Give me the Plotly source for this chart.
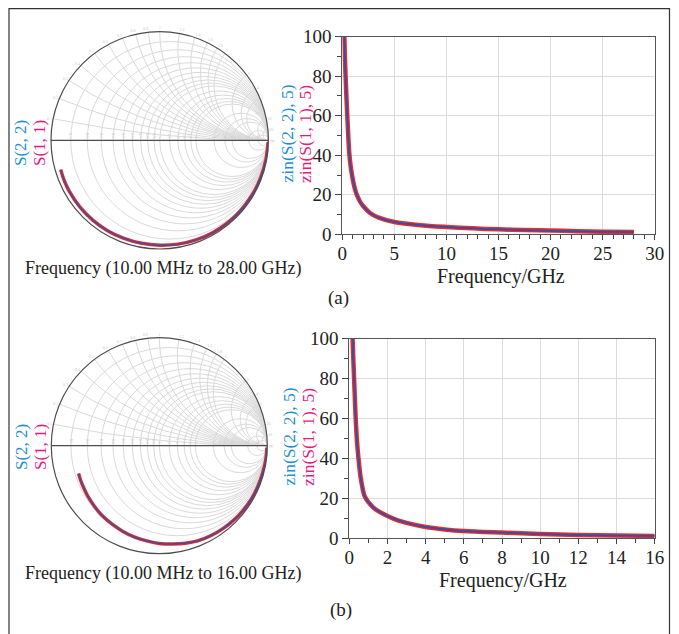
import numpy as np
import plotly.graph_objects as go

W, H = 679, 634
OFF = 8  # page body margin of the viewer, compensated in the placement helpers
FONT = "Liberation Serif"
BLUE_TXT = "#1f8fd3"
PINK_TXT = "#e8197f"
RED = "#f22a2a"
BLUE = "#3a4f9e"

# ---------------- data ----------------
# panel (a): zin vs frequency (GHz)
freq_a = [0.17, 0.2, 0.26, 0.33, 0.4, 0.48, 0.57, 0.67, 0.8, 1.0, 1.2, 1.38, 1.7,
          2.0, 2.66, 3.5, 5.0, 7.5, 10.0, 12.5, 15.0, 17.5, 20.0, 22.5, 25.0, 28.0]
zin11_a = [118, 100, 88, 78, 69, 60, 50, 41, 34.5, 28, 23.2, 20.2, 16.6,
           14.3, 10.8, 8.4, 6.2, 4.6, 3.7, 3.0, 2.5, 2.2, 1.9, 1.6, 1.35, 1.2]
zin22_a = [118, 100, 88, 78, 69, 60, 50, 41, 34.5, 28, 23.2, 20.2, 16.6,
           14.3, 10.8, 8.4, 6.2, 4.6, 3.7, 3.0, 2.5, 2.1, 1.85, 1.55, 1.3, 1.15]

# panel (b)
freq_b = [0.15, 0.175, 0.21, 0.26, 0.33, 0.4, 0.47, 0.6, 0.8, 1.0, 1.25, 1.5,
          2.0, 2.5, 3.0, 4.0, 5.0, 6.0, 8.0, 10.0, 12.0, 14.0, 16.0]
zin11_b = [118, 100, 90, 78, 61, 49, 41, 30, 21, 18, 15.4, 13.6,
           11.0, 9.0, 7.6, 5.5, 4.3, 3.5, 2.7, 2.0, 1.55, 1.25, 1.05]
zin22_b = [118, 100, 90, 78, 61, 49, 41, 30, 21, 18, 15.4, 13.6,
           11.0, 9.0, 7.6, 5.5, 4.3, 3.5, 2.7, 2.0, 1.5, 1.2, 1.0]

# Smith traces: reflection coefficient angle (deg) and magnitude
ang_a = [-1, -10, -20, -30, -45, -60, -70, -80, -90, -100, -110, -120, -130, -140, -150, -157, -163.5]
mag_a = [0.997, 0.993, 0.99, 0.988, 0.985, 0.98, 0.975, 0.97, 0.965, 0.962, 0.96, 0.96, 0.958, 0.957, 0.955, 0.953, 0.95]
ang_b = [-1, -8, -15, -22, -30, -38, -45, -52, -60, -68, -75, -82, -90, -97, -105,
         -113, -121, -130, -138, -145, -152, -157, -161]
mag_b = [0.997, 0.994, 0.99, 0.987, 0.985, 0.98, 0.975, 0.968, 0.96, 0.95, 0.935, 0.92, 0.905, 0.89,
         0.877, 0.862, 0.848, 0.835, 0.82, 0.81, 0.8, 0.795, 0.79]

real_ticks = [0.1, 0.2, 0.3, 0.4, 0.5, 0.6, 0.7, 0.8, 0.9, 1, 1.2, 1.4, 1.6, 1.8, 2, 3, 4, 5, 10, 20]
imag_ticks = [0.1, 0.2, 0.3, 0.4, 0.5, 0.6, 0.7, 0.8, 0.9, 1, 1.2, 1.4, 1.6, 1.8, 2, 3, 4, 5, 10, 20]


def to_z(ang, mag):
    g = np.array(mag) * np.exp(1j * np.deg2rad(np.array(ang)))
    z = (1 + g) / (1 - g)
    return z.real, z.imag


def px(x):
    return (x - OFF) / W


def py(y):
    return 1 - (y - OFF) / H


fig = go.Figure()

# Smith traces
for ang, mag, sub in [(ang_a, mag_a, "smith"), (ang_b, mag_b, "smith2")]:
    re, im = to_z(ang, mag)
    fig.add_trace(go.Scattersmith(real=re, imag=im, subplot=sub, mode="lines",
                                  line=dict(color=RED, width=3.5, shape="spline"),
                                  name="S(1, 1)", showlegend=False))
    fig.add_trace(go.Scattersmith(real=re, imag=im, subplot=sub, mode="lines",
                                  line=dict(color=BLUE, width=1.5, shape="spline"),
                                  name="S(2, 2)", showlegend=False))

# zin traces
for xs, ys, xa, ya in [(freq_a, zin11_a, "x", "y"), (freq_b, zin11_b, "x2", "y2")]:
    fig.add_trace(go.Scatter(x=xs, y=ys, xaxis=xa, yaxis=ya, mode="lines",
                             line=dict(color=RED, width=4.5, shape="spline", smoothing=0.8),
                             showlegend=False))
for xs, ys, xa, ya in [(freq_a, zin22_a, "x", "y"), (freq_b, zin22_b, "x2", "y2")]:
    fig.add_trace(go.Scatter(x=xs, y=ys, xaxis=xa, yaxis=ya, mode="lines",
                             line=dict(color=BLUE, width=2, shape="spline", smoothing=0.8),
                             showlegend=False))

smith_common = dict(
    bgcolor="white",
    realaxis=dict(tickvals=real_ticks, gridcolor="#dadada", gridwidth=0.8,
                  linecolor="#4d4d4d", linewidth=1.2, showline=True, ticks="",
                  tickfont=dict(size=4, color="#c8c8c8", family=FONT)),
    imaginaryaxis=dict(tickvals=imag_ticks, gridcolor="#dadada", gridwidth=0.8,
                       linecolor="#4d4d4d", linewidth=1.2, showline=True, ticks="",
                       tickfont=dict(size=4, color="#c8c8c8", family=FONT)),
)

tickfont = dict(family=FONT, size=19, color="#222222")
axis_common = dict(showline=True, linecolor="#555555", linewidth=1, mirror=True,
                   showgrid=True, gridcolor="#dcdcdc", gridwidth=1, zeroline=False,
                   automargin=False,
                   ticks="outside", tickcolor="#444444", tickfont=tickfont)
xminor = dict(dtick=1, ticklen=4, ticks="outside", tickcolor="#444444", showgrid=False)
yminor = dict(dtick=10, ticklen=4, ticks="outside", tickcolor="#444444", showgrid=False)

fig.update_layout(
    template="none",
    width=W, height=H, autosize=False,
    margin=dict(l=0, r=0, t=0, b=0, pad=0, autoexpand=False),
    showlegend=False,
    paper_bgcolor="white", plot_bgcolor="white",
    smith=dict(domain=dict(x=[px(51), px(268.4)], y=[py(249), py(31.6)]), **smith_common),
    smith2=dict(domain=dict(x=[px(51.3), px(267.3)], y=[py(553.7), py(337.7)]), **smith_common),
    xaxis=dict(domain=[px(342.3), px(654.7)], range=[0, 30], dtick=5, anchor="y",
               ticklen=5, ticklabelstandoff=-3, minor=xminor, **axis_common),
    yaxis=dict(domain=[py(234.3), py(36.7)], range=[0, 100], dtick=20, anchor="x",
               ticklen=6, minor=yminor, **axis_common),
    xaxis2=dict(domain=[px(349.3), px(654.7)], range=[0, 16], dtick=2, anchor="y2",
                ticklen=5, ticklabelstandoff=-3, minor=xminor, **axis_common),
    yaxis2=dict(domain=[py(538), py(338.7)], range=[0, 100], dtick=20, anchor="x2",
                ticklen=6, minor=yminor, **axis_common),
)

anns = []


def ann(text, x, y, size=18, color="#222222", angle=0):
    anns.append(dict(text=text, x=px(x), y=py(y), xref="paper", yref="paper",
                     showarrow=False, xanchor="center", yanchor="middle", textangle=angle,
                     font=dict(family=FONT, size=size, color=color)))


# panel (a)
ann("S(2, 2)", 20, 143, 17, BLUE_TXT, -90)
ann("S(1, 1)", 39, 143, 17, PINK_TXT, -90)
ann("Frequency (10.00 MHz to 28.00 GHz)", 162.5, 268, 18)
ann("zin(S(2, 2), 5)", 286.5, 134, 17.5, BLUE_TXT, -90)
ann("zin(S(1, 1), 5)", 305, 134, 17.5, PINK_TXT, -90)
ann("Frequency/GHz", 501, 276, 20)
ann("(a)", 338, 298, 19)
# panel (b)
ann("S(2, 2)", 21, 447, 17, BLUE_TXT, -90)
ann("S(1, 1)", 40, 447, 17, PINK_TXT, -90)
ann("Frequency (10.00 MHz to 16.00 GHz)", 163, 573, 18)
ann("zin(S(2, 2), 5)", 288.5, 437, 17.5, BLUE_TXT, -90)
ann("zin(S(1, 1), 5)", 308, 437, 17.5, PINK_TXT, -90)
ann("Frequency/GHz", 503, 580, 20)
ann("(b)", 340.5, 610, 19)

fig.update_layout(annotations=anns)

# outer frame (left, top, right edges; bottom runs past the picture)
fig.add_shape(type="path", xref="paper", yref="paper",
              path=f"M {px(9)} 0 L {px(9)} {py(8.6)} L {px(669.5)} {py(8.6)} L {px(669.5)} 0",
              line=dict(color="#333333", width=1.2), layer="below")

fig.write_html("out.html")
